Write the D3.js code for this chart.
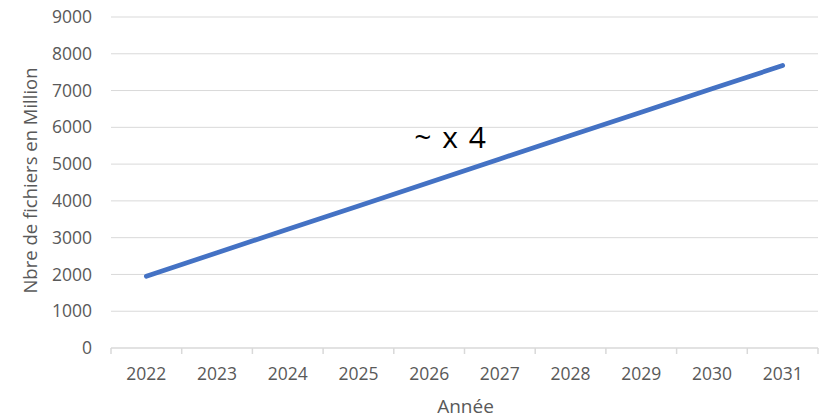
<!DOCTYPE html>
<html>
<head>
<meta charset="utf-8">
<script src="https://cdn.jsdelivr.net/npm/d3@7"></script>
<style>
    body { margin: 0; background: #fff; }
    #chart { width: 827px; height: 420px; }
    text { font-family: "Open Sans", "Liberation Sans", sans-serif; }
</style>
</head>
<body>
<div id="chart"></div>
<script>
var years = ["2022", "2023", "2024", "2025", "2026", "2027", "2028", "2029", "2030", "2031"];
var files = [1950, 2590, 3230, 3860, 4500, 5140, 5780, 6410, 7050, 7680];
var yTicks = [0, 1000, 2000, 3000, 4000, 5000, 6000, 7000, 8000, 9000];
var annotation = "~ x 4";

var outerWidth = 827, outerHeight = 420;
var margin = {top: 17, right: 9, bottom: 72, left: 111};
var width = outerWidth - margin.left - margin.right;
var height = outerHeight - margin.top - margin.bottom;

var svg = d3.select("#chart")
    .append("svg")
    .attr("width", outerWidth)
    .attr("height", outerHeight)
    .append("g")
    .attr("transform", "translate(" + margin.left + "," + margin.top + ")");

var xScale = d3.scaleBand()
    .domain(years)
    .range([0, width]);

var yScale = d3.scaleLinear()
    .domain([0, 9000])
    .range([height, 0]);

// Y gridlines
svg.append("g")
    .selectAll("line")
    .data(yTicks.slice(1))
    .enter().append("line")
    .attr("x1", 0)
    .attr("x2", width)
    .attr("y1", d => yScale(d))
    .attr("y2", d => yScale(d))
    .attr("stroke", "#d9d9d9")
    .attr("stroke-width", 1);

// Y labels
svg.append("g")
    .selectAll("text")
    .data(yTicks)
    .enter().append("text")
    .attr("x", -19)
    .attr("y", d => yScale(d))
    .attr("dy", "0.35em")
    .attr("text-anchor", "end")
    .attr("font-size", 17.5)
    .attr("fill", "#595959")
    .text(d => d);

// X axis line and tick marks between categories
svg.append("line")
    .attr("x1", 0)
    .attr("x2", width)
    .attr("y1", height)
    .attr("y2", height)
    .attr("stroke", "#d9d9d9")
    .attr("stroke-width", 1.5);

var boundaries = years.map(d => xScale(d)).concat([width]);
svg.append("g")
    .selectAll("line")
    .data(boundaries)
    .enter().append("line")
    .attr("x1", d => d)
    .attr("x2", d => d)
    .attr("y1", height)
    .attr("y2", height + 6)
    .attr("stroke", "#d9d9d9")
    .attr("stroke-width", 1.5);

svg.append("g")
    .selectAll("text")
    .data(years)
    .enter().append("text")
    .attr("x", d => xScale(d) + xScale.bandwidth() / 2)
    .attr("y", height + 32)
    .attr("text-anchor", "middle")
    .attr("font-size", 17.5)
    .attr("fill", "#595959")
    .text(d => d);

// Axis titles
svg.append("text")
    .attr("x", width / 2 + 1)
    .attr("y", height + 65)
    .attr("text-anchor", "middle")
    .attr("font-size", 19)
    .attr("fill", "#595959")
    .text("Année");

svg.append("text")
    .attr("transform", "translate(" + (-74) + "," + (height / 2 - 2) + ") rotate(-90)")
    .attr("text-anchor", "middle")
    .attr("font-size", 18.5)
    .attr("fill", "#595959")
    .text("Nbre de fichiers en Million");

// Line
var line = d3.line()
    .x((d, i) => xScale(years[i]) + xScale.bandwidth() / 2)
    .y(d => yScale(d));

svg.append("path")
    .datum(files)
    .attr("d", line)
    .attr("fill", "none")
    .attr("stroke", "#4472c4")
    .attr("stroke-width", 4.75)
    .attr("stroke-linecap", "round")
    .attr("stroke-linejoin", "round");

// Annotation
svg.append("text")
    .attr("x", xScale("2026") + xScale.bandwidth() / 2 + 21)
    .attr("y", yScale(5440))
    .attr("text-anchor", "middle")
    .attr("font-size", 30)
    .attr("word-spacing", 3)
    .attr("fill", "#000")
    .text(annotation);
</script>
</body>
</html>
